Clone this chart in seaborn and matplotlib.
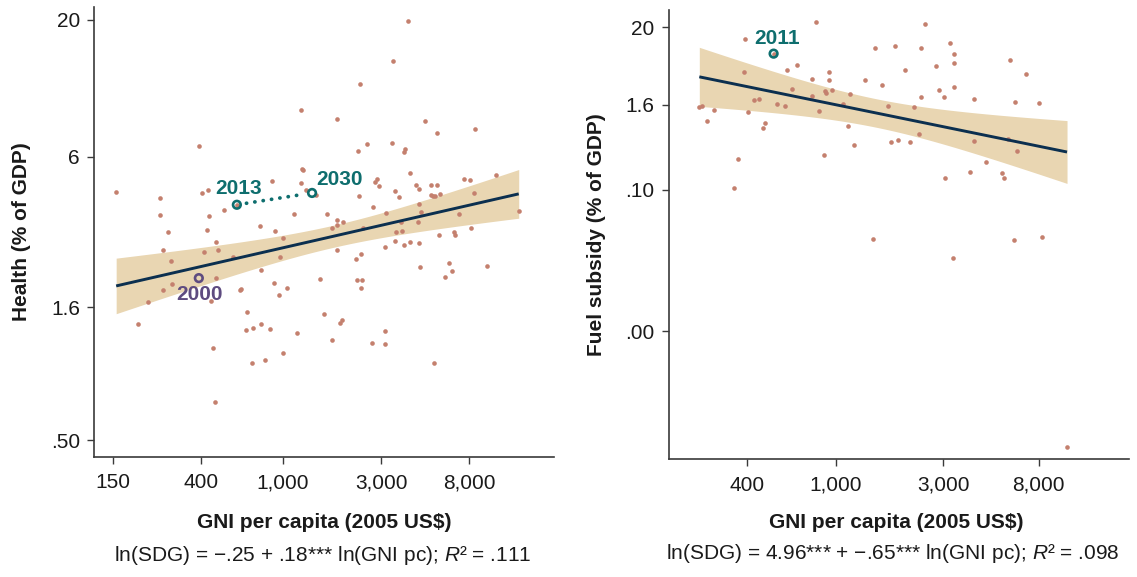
import numpy as np
import pandas as pd
import matplotlib
matplotlib.use("Agg")
import matplotlib.pyplot as plt
import seaborn as sns
from matplotlib.ticker import FixedLocator, FixedFormatter, NullLocator

sns.set_theme(style="ticks")
plt.rcParams["font.family"] = ["Liberation Sans", "DejaVu Sans"]
plt.rcParams["mathtext.fontset"] = "custom"
plt.rcParams["mathtext.rm"] = "Liberation Sans"
plt.rcParams["mathtext.it"] = "Liberation Sans:italic"

# ---------------- data: left panel (Health) ----------------
health_gni = [156, 199, 222, 255, 253, 263, 279, 288, 291, 262,
              394, 406, 432, 437, 430, 414, 477, 483, 476, 449,
              458, 472, 519, 576, 622, 630, 670, 667, 715, 707,
              781, 772, 784, 890, 915, 904, 863, 824, 972, 1007,
              1042, 961, 1007, 1130, 1165, 1220, 1243, 1248, 1225, 1298,
              1450, 1508, 1585, 1629, 1725, 1731, 1827, 1820, 1827, 1827,
              1885, 1929, 1958, 2302, 2328, 2266, 2391, 2293, 2430, 2391,
              2374, 2563, 2438, 2694, 2736, 2800, 2854, 2921, 3167, 3120,
              3120, 3108, 3421, 3394, 3501, 3637, 3487, 3528, 3724, 3780,
              3869, 3854, 3884, 4035, 4145, 4115, 4427, 4548, 4563, 4512,
              4689, 4581, 4617, 4873, 5244, 5574, 5222, 5322, 5425, 5771,
              5703, 5597, 5408, 6090, 6402, 6605, 6760, 6786, 7160, 7523,
              8066, 8412, 8122, 8507, 9775, 10760, 13870, 599]
health_val = [4.41, 1.39, 1.68, 4.17, 3.61, 2.66, 3.10, 2.41, 1.97, 1.86,
              6.57, 4.36, 4.50, 3.58, 3.17, 2.60, 2.84, 2.66, 2.07, 1.70,
              1.12, 0.70, 3.77, 2.49, 1.86, 1.88, 1.54, 1.31, 1.34, 0.98,
              1.39, 3.26, 2.23, 4.84, 3.13, 1.99, 1.32, 1.01, 2.50, 2.95,
              1.89, 1.78, 1.07, 3.62, 1.28, 9.08, 5.41, 5.35, 4.77, 4.48,
              4.31, 2.06, 1.51, 3.62, 3.20, 1.20, 8.35, 3.46, 3.29, 2.66,
              1.40, 1.43, 3.38, 6.32, 4.25, 2.44, 2.55, 2.04, 2.04, 1.89,
              11.4, 6.74, 3.22, 1.17, 3.87, 4.79, 4.94, 4.66, 3.68, 2.73,
              1.30, 1.16, 13.9, 6.78, 4.46, 4.20, 2.87, 3.11, 3.39, 3.13,
              2.78, 6.26, 6.40, 19.8, 5.20, 2.85, 4.68, 4.52, 3.97, 3.38,
              3.70, 2.82, 2.28, 8.22, 4.70, 4.68, 4.31, 4.25, 4.25, 4.32,
              3.02, 7.42, 0.98, 2.09, 2.37, 2.21, 3.11, 3.02, 3.64, 4.94,
              4.90, 4.35, 3.22, 7.64, 2.31, 5.13, 3.72, 3.94]
health_coef = (-0.25, 0.18)
health_years = ["2000", "2013", "2030"]
health_year_gni = [392, 599, 1385]
health_year_val = [2.07, 3.94, 4.37]

# ---------------- data: right panel (Fuel subsidy) ----------------
fuel_gni = [246, 254, 266, 285, 350, 367, 388, 395, 404, 431,
            454, 472, 483, 548, 592, 603, 639, 667, 778, 783,
            818, 837, 887, 893, 900, 926, 930, 961, 1072, 1128,
            1153, 1200, 1343, 1455, 1498, 1594, 1696, 1765, 1838, 1892,
            2035, 2141, 2221, 2337, 2380, 2380, 2477, 2773, 2876, 3016,
            3049, 3232, 3327, 3364, 3364, 3364, 3963, 4096, 4110, 4652,
            5500, 5602, 5810, 5938, 6227, 6271, 6364, 7047, 7976, 8243,
            10680, 527]
fuel_val = [1.48, 1.53, 0.94, 1.35, 0.106, 0.277, 4.72, 13.8, 1.25, 1.88,
            1.96, 0.745, 0.886, 1.66, 1.56, 4.93, 2.71, 5.80, 2.14, 3.76,
            23.8, 1.30, 0.316, 2.54, 2.36, 4.62, 3.64, 2.57, 1.63, 0.804,
            2.26, 0.428, 3.64, 0.0200, 10.2, 3.09, 1.54, 0.483, 11.0, 0.515,
            4.98, 0.472, 1.48, 0.620, 2.05, 10.2, 22.3, 5.62, 2.57, 2.05,
            0.145, 12.1, 0.0109, 8.48, 6.19, 2.83, 0.178, 1.94, 0.493, 0.246,
            0.174, 0.148, 0.533, 6.83, 0.0194, 1.78, 0.356, 4.33, 1.72, 0.0212,
            0.0000227, 8.48]
fuel_coef = (4.96, -0.65)
fuel_years = ["2011"]
fuel_year_gni = [527]
fuel_year_val = [8.48]

# ticks
health_xticks = [150, 400, 1000, 3000, 8000]
health_xlabels = ["150", "400", "1,000", "3,000", "8,000"]
health_yticks = [20, 6, 1.6, 0.5]
health_ylabels = ["20", "6", "1.6", ".50"]
fuel_xticks = [400, 1000, 3000, 8000]
fuel_xlabels = ["400", "1,000", "3,000", "8,000"]
fuel_yticks = [20, 1.6, 0.1, 0.001]
fuel_ylabels = ["20", "1.6", ".10", ".00"]

# ---------------- style ----------------
DOT = "#c4806e"
BAND = "#e9d6b2"
LINE = "#0b2f4f"
TEAL = "#0e6e6e"
PURPLE = "#5e4b80"
AXC = "#3a3a3a"
TXT = "#1a1a1a"
FS = 15

fig = plt.figure(figsize=(11.37, 5.77), dpi=100)
axL = fig.add_axes([0.0829, 0.2085, 0.4043, 0.7799])
axR = fig.add_axes([0.5884, 0.2040, 0.4043, 0.7787])


def panel(ax, gni, val, coef, xlim, ylim, xt, xl, yt, yl):
    ax.set_xscale("log")
    ax.set_yscale("log")
    df = pd.DataFrame({"gni": gni, "val": val})
    # fit band (OLS standard error around reported coefficients)
    a, b = coef
    lx = np.log(df["gni"].to_numpy())
    ly = np.log(df["val"].to_numpy())
    n = len(lx)
    s = np.sqrt(np.sum((ly - (a + b * lx)) ** 2) / (n - 2))
    xbar = lx.mean()
    sxx = np.sum((lx - xbar) ** 2)
    grid = np.linspace(lx.min(), lx.max(), 200)
    fit = a + b * grid
    hw = 1.98 * s * np.sqrt(1.0 / n + (grid - xbar) ** 2 / sxx)
    ax.fill_between(np.exp(grid), np.exp(fit - hw), np.exp(fit + hw),
                    color=BAND, lw=0, zorder=1)
    sns.scatterplot(data=df, x="gni", y="val", ax=ax, color=DOT, s=11,
                    linewidth=0, zorder=2)
    ax.plot(np.exp(grid), np.exp(fit), color=LINE, lw=2.1, zorder=3,
            solid_capstyle="butt")
    ax.set_xlim(*xlim)
    ax.set_ylim(*ylim)
    ax.xaxis.set_major_locator(FixedLocator(xt))
    ax.xaxis.set_major_formatter(FixedFormatter(xl))
    ax.yaxis.set_major_locator(FixedLocator(yt))
    ax.yaxis.set_major_formatter(FixedFormatter(yl))
    ax.xaxis.set_minor_locator(NullLocator())
    ax.yaxis.set_minor_locator(NullLocator())
    sns.despine(ax=ax)
    for sp in ("left", "bottom"):
        ax.spines[sp].set_color(AXC)
        ax.spines[sp].set_linewidth(1.2)
    ax.tick_params(axis="both", which="major", direction="out", length=4.8,
                   width=1.0, color=AXC, labelcolor=TXT, labelsize=FS)
    ax.tick_params(axis="y", pad=5.5)
    ax.tick_params(axis="x", pad=7)
    ax.set_xlabel("")
    ax.set_ylabel("")
    ax.set_facecolor("white")


panel(axL, health_gni, health_val, health_coef, (122.2, 20540), (0.432, 22.4),
      health_xticks, health_xlabels, health_yticks, health_ylabels)
panel(axR, fuel_gni, fuel_val, fuel_coef, (180.3, 20100), (1.53e-5, 35.2),
      fuel_xticks, fuel_xlabels, fuel_yticks, fuel_ylabels)

# highlighted years
yr = pd.DataFrame({"gni": health_year_gni, "val": health_year_val,
                   "year": health_years})
ycol = {"2000": PURPLE, "2013": TEAL, "2030": TEAL, "2011": TEAL}
# dotted path 2013 -> 2030
p13 = yr[yr.year == "2013"].iloc[0]
p30 = yr[yr.year == "2030"].iloc[0]
axL.annotate("", xy=(p30.gni, p30.val), xytext=(p13.gni, p13.val),
             arrowprops=dict(arrowstyle="-", color=TEAL, lw=2.7,
                             ls=(0, (0.05, 2.2)), capstyle="round",
                             shrinkA=7, shrinkB=6), zorder=4)
offsets = {"2000": (0.5, -11.5), "2013": (1.5, 11.5), "2030": (19.5, 10.0)}
for _, r in yr.iterrows():
    sns.scatterplot(x=[r.gni], y=[r.val], ax=axL, s=30, facecolor="none",
                    edgecolor=ycol[r.year], linewidth=1.9, zorder=5)
    axL.annotate(r.year, (r.gni, r.val), xytext=offsets[r.year],
                 textcoords="offset points", ha="center", va="center",
                 color=ycol[r.year], fontsize=FS, fontweight="bold", zorder=6)

yr2 = pd.DataFrame({"gni": fuel_year_gni, "val": fuel_year_val,
                    "year": fuel_years})
for _, r in yr2.iterrows():
    sns.scatterplot(x=[r.gni], y=[r.val], ax=axR, s=30, facecolor="none",
                    edgecolor=ycol[r.year], linewidth=1.9, zorder=5)
    axR.annotate(r.year, (r.gni, r.val), xytext=(2.2, 10.8),
                 textcoords="offset points", ha="center", va="center",
                 color=ycol[r.year], fontsize=FS, fontweight="bold", zorder=6)

# axis titles
fig.text(0.0185, 0.598, "Health (% of GDP)", rotation=90, ha="center",
         va="center", fontsize=FS, fontweight="bold", color=TXT)
fig.text(0.5242, 0.593, "Fuel subsidy (% of GDP)", rotation=90, ha="center",
         va="center", fontsize=FS, fontweight="bold", color=TXT)
fig.text(0.2854, 0.0936, r"GNI per capita (2005 US\$)", ha="center",
         va="center", fontsize=FS, fontweight="bold", color=TXT)
fig.text(0.788, 0.0936, r"GNI per capita (2005 US\$)", ha="center",
         va="center", fontsize=FS, fontweight="bold", color=TXT)

# footnotes
fig.text(0.2841, 0.0364,
         "ln(SDG) = \u2212.25 + .18*** ln(GNI pc); $\\mathit{R}$\u00b2 = .111",
         ha="center", va="center", fontsize=FS, color=TXT)
fig.text(0.7854, 0.0400,
         "ln(SDG) = 4.96*** + \u2212.65*** ln(GNI pc); $\\mathit{R}$\u00b2 = .098",
         ha="center", va="center", fontsize=FS, color=TXT)

fig.savefig("out.png", dpi=100, facecolor="white")
